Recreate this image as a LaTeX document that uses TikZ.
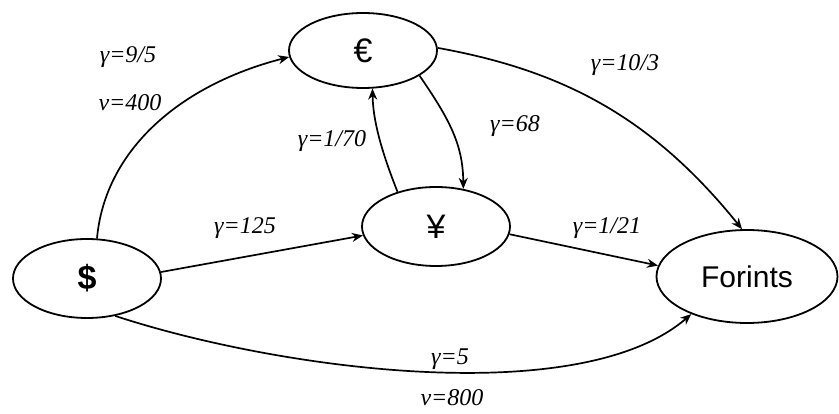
\documentclass[tikz,border=0pt]{standalone}
\usepackage{fontspec}
\setmainfont{Liberation Serif}
\newfontfamily\nodefont{Liberation Sans}
\usetikzlibrary{shapes.geometric,arrows.meta}
\begin{document}
\begin{tikzpicture}[x=1pt,y=-1pt,
  cur/.style={draw,ellipse,line width=1.8pt,inner sep=0pt,font=\nodefont\fontsize{34}{36}\selectfont},
  conn/.style={line width=1.7pt,-{Stealth[length=11pt,width=9pt,inset=3.5pt]}},
  lab/.style={font=\itshape\fontsize{24}{26}\selectfont,inner sep=0pt}]
\useasboundingbox (0,0) rectangle (839,414);
\node[cur,minimum width=148pt,minimum height=79pt] (usd) at (87,278.5) {\bfseries\$};
\node[cur,minimum width=148pt,minimum height=75pt] (eur) at (363,50.5) {€};
\node[cur,minimum width=148pt,minimum height=79pt] (yen) at (436,226.5) {¥};
\node[cur,minimum width=181pt,minimum height=93pt,font=\nodefont\fontsize{30}{32}\selectfont] (huf) at (747,276.5) {Forints};
% edges
\draw[conn] (usd.76) .. controls (105,150) and (180,85) .. (eur.185);
\draw[conn] (eur.2) .. controls (560,70) and (650,115) .. (huf.96);
\draw[conn] (eur.-24) .. controls (450,120) and (463,145) .. (yen.54);
\draw[conn] (yen.138) .. controls (385,160) and (373,125) .. (eur.-76);
\draw[conn] (usd.5) -- (yen.187);
\draw[conn] (yen.-6) -- (huf.173);
\draw[conn] (usd.-53) .. controls (280,370) and (580,410) .. (huf.214);
% labels
\node[lab] (l1) at (128,57) {γ=9/5};
\node[lab] (l2) at (130,103) {v=400};
\node[lab] (l3) at (625,65) {γ=10/3};
\node[lab] (l4) at (515,126) {γ=68};
\node[lab] (l5) at (332,141) {γ=1/70};
\node[lab] (l6) at (245,228) {γ=125};
\node[lab] (l7) at (607,228) {γ=1/21};
\node[lab] (l8) at (450,359) {γ=5};
\node[lab] (l9) at (452,398) {v=800};
\end{tikzpicture}
\end{document}
